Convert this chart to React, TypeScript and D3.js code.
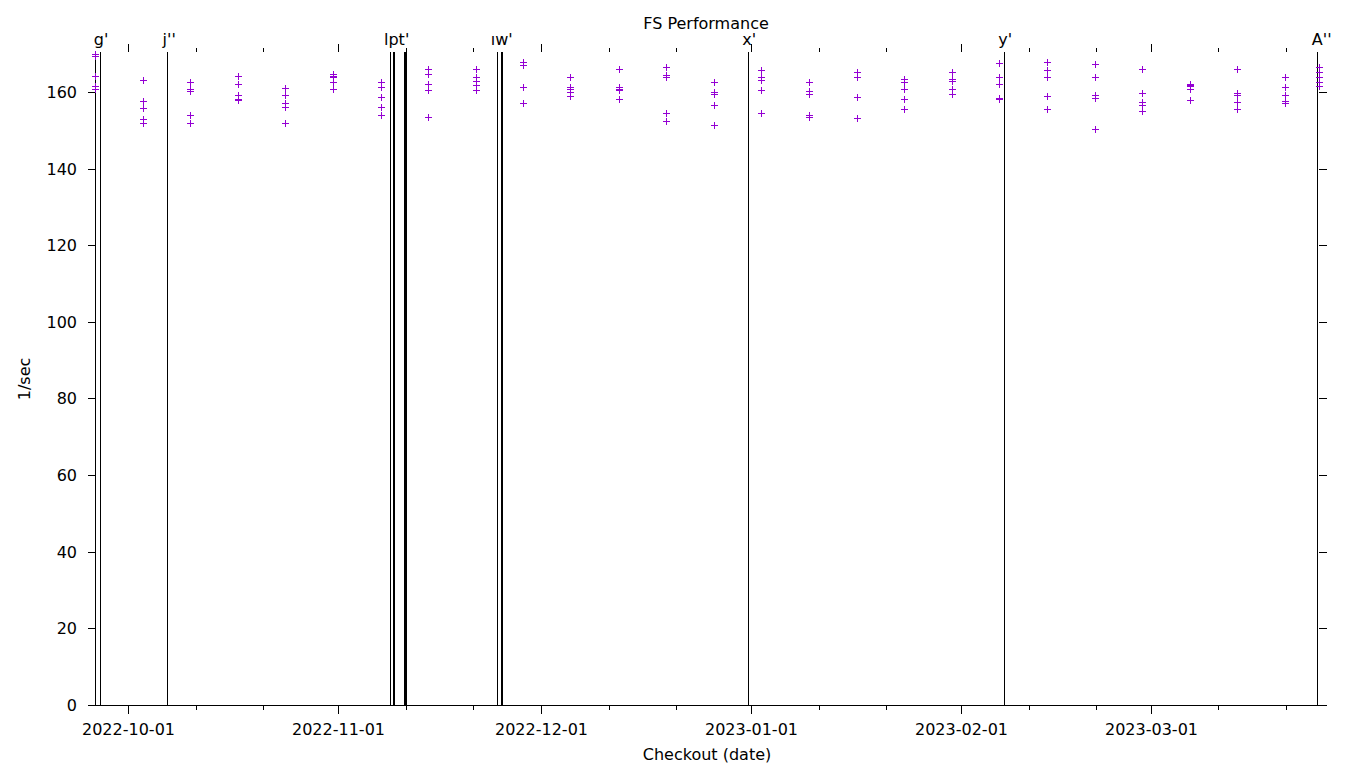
import React from "react";
import * as d3 from "d3";

// Checkout timestamps (one group of runs per checkout)
const checkoutDates = [
  "2022-09-26T03:04:00Z", "2022-10-03T05:08:00Z", "2022-10-10T05:05:00Z", "2022-10-17T05:44:00Z",
  "2022-10-24T04:15:00Z", "2022-10-31T06:19:00Z", "2022-11-07T08:23:00Z", "2022-11-14T06:53:00Z",
  "2022-11-21T08:57:00Z", "2022-11-28T07:28:00Z", "2022-12-05T07:25:00Z", "2022-12-12T10:32:00Z",
  "2022-12-19T10:06:00Z", "2022-12-26T11:07:00Z", "2023-01-02T10:42:00Z", "2023-01-09T12:46:00Z",
  "2023-01-16T14:48:00Z", "2023-01-23T13:20:00Z", "2023-01-30T15:24:00Z", "2023-02-06T15:20:00Z",
  "2023-02-13T16:00:00Z", "2023-02-20T18:03:00Z", "2023-02-27T16:34:00Z", "2023-03-06T18:38:00Z",
  "2023-03-13T17:08:00Z", "2023-03-20T19:12:00Z", "2023-03-25T19:40:00Z",
];

// Runs per checkout, in 1/sec
const runsPerSecond = [
  [169.5, 169.9, 164.2, 161.6, 160.7],
  [163.1, 157.7, 155.8, 152.9, 151.8],
  [162.5, 160.3, 160.7, 153.9, 152.0],
  [164.2, 162.2, 159.1, 158.0, 158.3],
  [161.0, 159.3, 157.2, 156.1, 151.8],
  [164.6, 163.9, 164.2, 162.5, 160.7],
  [162.6, 161.2, 158.7, 156.1, 154.0],
  [166.1, 164.6, 162.0, 160.5, 153.6],
  [166.1, 164.0, 162.9, 161.8, 160.5],
  [167.7, 167.1, 161.2, 157.2],
  [164.0, 161.3, 160.7, 160.0, 159.0],
  [166.1, 161.3, 160.9, 160.4, 158.1],
  [166.6, 164.0, 164.4, 154.5, 152.5],
  [162.5, 160.1, 159.6, 156.5, 151.5],
  [165.7, 163.8, 163.1, 160.5, 154.4],
  [162.7, 160.3, 159.4, 154.0, 153.6],
  [165.2, 164.0, 158.7, 153.3],
  [163.3, 162.5, 160.7, 158.1, 155.5],
  [165.3, 163.0, 163.3, 160.7, 159.6],
  [167.5, 164.0, 162.0, 158.1, 158.5],
  [167.7, 165.7, 163.9, 159.0, 155.5],
  [167.2, 164.0, 159.1, 158.5, 150.3],
  [166.1, 159.7, 157.5, 156.6, 155.0],
  [162.0, 161.5, 161.8, 160.9, 157.8],
  [166.1, 159.7, 159.1, 157.5, 155.5],
  [164.0, 161.4, 159.2, 157.2, 157.6],
  [166.4, 165.2, 164.0, 162.7, 161.6],
];

// Release tag markers
const tagLineDates = [
  "2022-09-26T21:30:00Z", "2022-10-06T18:53:00Z",
  "2022-11-08T16:58:00Z", "2022-11-09T03:36:00Z", "2022-11-09T07:08:00Z",
  "2022-11-10T18:35:00Z", "2022-11-10T22:07:00Z", "2022-11-11T01:39:00Z",
  "2022-11-24T12:04:00Z", "2022-11-25T02:15:00Z", "2022-11-25T05:48:00Z",
  "2022-12-31T13:21:00Z", "2023-02-07T08:21:00Z", "2023-03-25T13:18:00Z",
];
const tagLabelTexts = ["g'", "j''", "lpt'", "ıw'", "x'", "y'", "A''"];
const tagLabelLine = [0, 1, 2, 8, 11, 12, 13];

// Axis ticks
const yTickValues = [0, 20, 40, 60, 80, 100, 120, 140, 160];
const majorTickDates = ["2022-10-01", "2022-11-01", "2022-12-01", "2023-01-01", "2023-02-01", "2023-03-01"];
const minorTickDates = [
  "2022-10-11", "2022-10-21", "2022-11-11", "2022-11-21", "2022-12-11", "2022-12-21",
  "2023-01-11", "2023-01-21", "2023-02-11", "2023-02-21", "2023-03-11", "2023-03-21",
];
const yMax = 170.7;

const FONT = "DejaVu Sans, sans-serif";
const PURPLE = "#9400d3";

const labelLayout: Record<string, { anchor: string; dx: number }> = {
  "g'": { anchor: "middle", dx: 0.5 },
  "j''": { anchor: "middle", dx: 1.7 },
  "lpt'": { anchor: "start", dx: -6.5 },
  "ıw'": { anchor: "start", dx: -6.7 },
  "x'": { anchor: "middle", dx: 0.7 },
  "y'": { anchor: "middle", dx: 0.8 },
  "A''": { anchor: "middle", dx: 4.2 },
};

const c = (v: number) => Math.floor(v) + 0.5;

export default function App() {
  const dates = checkoutDates.map((s) => new Date(s));
  const x = d3.scaleUtc().domain(d3.extent(dates) as [Date, Date]).range([95.3, 1319.3]);
  const y = d3.scaleLinear().domain([0, yMax]).range([705.5, 51.5]);
  const left = c(x.range()[0]);
  const right = c(x.range()[1]);
  const top = 51.5;
  const bottom = c(y(0));
  const fmt = d3.utcFormat("%Y-%m-%d");

  const points: { cx: number; cy: number; key: string }[] = [];
  dates.forEach((d, i) => {
    runsPerSecond[i].forEach((v, j) => {
      points.push({ cx: c(x(d)), cy: c(y(v)), key: `${i}-${j}` });
    });
  });

  return (
    <svg
      width={1360}
      height={768}
      style={{ position: "absolute", left: 0, top: 0, display: "block", background: "#fff" }}
      fontFamily={FONT}
    >
      <rect x={0} y={0} width={1360} height={768} fill="#fff" />

      {/* tag lines */}
      {tagLineDates.map((s, i) => {
        const xx = c(x(new Date(s)));
        return <line key={"tl" + i} x1={xx} x2={xx} y1={52} y2={bottom} stroke="#000" strokeWidth={1} shapeRendering="crispEdges" />;
      })}

      {/* left border */}
      <line x1={left} x2={left} y1={52} y2={bottom} stroke="#000" shapeRendering="crispEdges" />
      {/* bottom border */}
      <line x1={left} x2={right} y1={bottom} y2={bottom} stroke="#000" shapeRendering="crispEdges" />

      {/* y ticks */}
      {yTickValues.map((v) => {
        const yy = c(y(v));
        return (
          <g key={"yt" + v}>
            <line x1={88} x2={left + 0.5} y1={yy} y2={yy} stroke="#000" shapeRendering="crispEdges" />
            <line x1={right - 0.5} x2={right + 7.5} y1={yy} y2={yy} stroke="#000" shapeRendering="crispEdges" />
            <text x={77} y={yy + 5.5} fontSize={16} textAnchor="end" fill="#000">{v}</text>
          </g>
        );
      })}

      {/* x major ticks */}
      {majorTickDates.map((s) => {
        const d = new Date(s + "T00:00:00Z");
        const xx = c(x(d));
        return (
          <g key={"xt" + s}>
            <line x1={xx} x2={xx} y1={bottom} y2={bottom + 8} stroke="#000" shapeRendering="crispEdges" />
            <line x1={xx} x2={xx} y1={top + 0.5} y2={top - 7.5} stroke="#000" shapeRendering="crispEdges" />
            <text x={xx} y={735.3} fontSize={16} textAnchor="middle" fill="#000">{fmt(d)}</text>
          </g>
        );
      })}
      {/* x minor ticks */}
      {minorTickDates.map((s) => {
        const xx = c(x(new Date(s + "T00:00:00Z")));
        return (
          <g key={"mt" + s}>
            <line x1={xx} x2={xx} y1={bottom} y2={bottom + 4} stroke="#000" shapeRendering="crispEdges" />
            <line x1={xx} x2={xx} y1={top + 0.5} y2={top - 3.5} stroke="#000" shapeRendering="crispEdges" />
          </g>
        );
      })}

      {/* tag labels */}
      {tagLabelTexts.map((t, i) => {
        const xx = c(x(new Date(tagLineDates[tagLabelLine[i]])));
        const lay = labelLayout[t];
        return (
          <text key={"lab" + i} x={xx + lay.dx} y={45} fontSize={16} textAnchor={lay.anchor} fill="#000">{t}</text>
        );
      })}

      {/* points */}
      {points.map((p) => (
        <path
          key={p.key}
          d={`M${p.cx - 3.5},${p.cy}H${p.cx + 3.5}M${p.cx},${p.cy - 3.5}V${p.cy + 3.5}`}
          stroke={PURPLE}
          strokeWidth={1}
          fill="none"
          shapeRendering="crispEdges"
        />
      ))}

      {/* titles */}
      <text x={706} y={29} fontSize={16} textAnchor="middle" fill="#000">FS Performance</text>
      <text x={707} y={760} fontSize={16} textAnchor="middle" fill="#000">Checkout (date)</text>
      <text transform={`translate(30,379) rotate(-90)`} fontSize={16} textAnchor="middle" fill="#000">1/sec</text>
    </svg>
  );
}
